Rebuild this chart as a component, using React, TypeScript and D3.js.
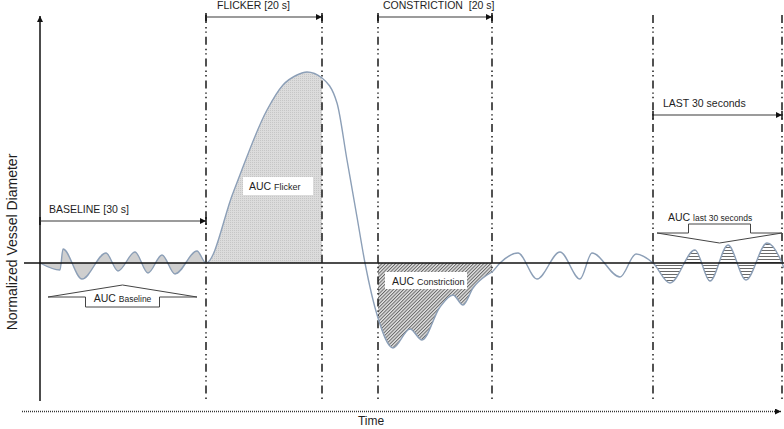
import React from 'react';
import * as d3 from 'd3';

// Schematic recording: time in arbitrary units, diameter relative to baseline (0)
const timePoints = [
  0, 20, 23, 42, 66, 78, 95, 108, 122, 135, 157, 166,
  193, 227, 243, 257, 267, 282, 297, 307, 317, 325,
  338, 353, 370, 382, 400, 413, 423, 433, 447, 452,
  460, 478, 497, 520, 540, 552, 580, 596, 613,
  630, 655, 670, 688, 706, 727, 742, 744,
];
const diameterValues = [
  0, -0.7, 1.4, -1.6, 1.0, -0.8, 1.1, -1.0, 0.8, -1.1, 1.2, 0,
  7.0, 15.3, 17.8, 18.8, 19.1, 18.5, 16.0, 10.3, 4.6, 0,
  -5.5, -8.5, -6.6, -7.7, -4.4, -3.2, -4.2, -2.5, -1.2, -0.9,
  0, 1.0, -1.6, 1.1, -1.6, 1.0, -1.4, 0.9, 0,
  -2.0, 1.3, -1.8, 1.8, -1.7, 2.0, 0, -0.5,
];

// protocol phases
const phaseLabels = ['BASELINE [30 s]', 'FLICKER [20 s]', 'CONSTRICTION  [20 s]', 'LAST 30 seconds'];
const phaseStart = [0, 166, 338, 613];
const phaseEnd = [166, 282, 452, 742];
const aucSubscripts = ['Baseline', 'Flicker', 'Constriction', 'last 30 seconds'];

// dash-dot markers
const boundaryTimes = [166, 282, 338, 452, 613, 742];

const yAxisLabel = 'Normalized Vessel Diameter';
const xAxisLabel = 'Time';

const W = 784;
const H = 429;
const FONT = '"Liberation Sans", Arial, sans-serif';
const INK = '#1e1e1e';

// per-phase layout (arrow row, label offset)
const arrowRowY = [221, 17, 17, 115];
const labelDx = [9, 11, 5, 10];
const fills = ['#cfcfcf', 'url(#flickerFill)', 'url(#constrFill)', 'url(#lastFill)'];

const App: React.FC = () => {
  const x = d3.scaleLinear().domain([0, 744]).range([40, 784]);
  const y = d3.scaleLinear().domain([-15, 25]).range([413, 13]);

  const pts = timePoints.map((t, i) => [t, diameterValues[i]] as [number, number]);

  const line = d3.line<[number, number]>()
    .x(d => x(d[0]))
    .y(d => y(d[1]))
    .curve(d3.curveMonotoneX);

  const area = d3.area<[number, number]>()
    .x(d => x(d[0]))
    .y0(y(0))
    .y1(d => y(d[1]))
    .curve(d3.curveMonotoneX);

  const y0 = y(0);
  const axisTop = 16;
  const axisBottom = 401;

  // block arrows, anchored to phase extents
  const bL = x(phaseStart[0]) + 8;
  const bR = x(phaseEnd[0]) - 9;
  const bC = (bL + bR) / 2;
  const baselineArrow = [
    [bC - 37, 307], [bC - 37, 297], [bL, 297], [bC, 285],
    [bR, 297], [bC + 37, 297], [bC + 37, 307],
  ];
  const lL = x(phaseStart[3]) + 4;
  const lR = x(phaseEnd[3]);
  const lC = (lL + lR) / 2;
  const lastArrow = [
    [lC - 31, 224], [lC + 31, 224], [lC + 31, 233], [lR, 233],
    [lC, 243], [lL, 233], [lC - 31, 233],
  ];
  const poly = (p: number[][]) => p.map(q => q.join(',')).join(' ');

  return (
    <svg width={W} height={H} style={{ position: 'absolute', left: 0, top: 0, background: '#fff' }}
      fontFamily={FONT}>
      <defs>
        <marker id="head" viewBox="0 0 6 6" refX="6" refY="3" markerWidth="6" markerHeight="6"
          markerUnits="userSpaceOnUse" orient="auto">
          <path d="M0,0 L6,3 L0,6 z" fill="#111" />
        </marker>
        <pattern id="flickerFill" width="2" height="2" patternUnits="userSpaceOnUse">
          <rect width="2" height="2" fill="#dcdcdc" />
          <rect width="1" height="1" fill="#c6c6c6" />
        </pattern>
        <pattern id="constrFill" width="2.4" height="2.4" patternUnits="userSpaceOnUse"
          patternTransform="rotate(45)">
          <rect width="2.4" height="2.4" fill="#e4e4e4" />
          <line x1="0.5" y1="0" x2="0.5" y2="2.4" stroke="#666" strokeWidth="1" />
        </pattern>
        <pattern id="lastFill" width="3" height="3" patternUnits="userSpaceOnUse">
          <rect width="3" height="3" fill="#fff" />
          <line x1="0" y1="1.5" x2="3" y2="1.5" stroke="#6a6a6a" strokeWidth="1" />
        </pattern>
        {phaseStart.map((s, i) => (
          <clipPath id={`phase${i}`} key={i}>
            <rect x={x(s)} y={0} width={x(phaseEnd[i]) - x(s)} height={H} />
          </clipPath>
        ))}
      </defs>

      {/* AUC areas */}
      {phaseStart.map((_, i) => (
        <path key={i} d={area(pts) || ''} fill={fills[i]} clipPath={`url(#phase${i})`} />
      ))}

      {/* phase boundaries */}
      {boundaryTimes.map(t => (
        <line key={t} x1={x(t)} x2={x(t)} y1={15} y2={axisBottom}
          stroke="#1a1a1a" strokeWidth={1.5} strokeDasharray="8,4,1.4,3,1.4,4" />
      ))}

      {/* vessel diameter trace */}
      <path d={line(pts) || ''} fill="none" stroke="#8c9fb7" strokeWidth={1.4} />

      {/* baseline level */}
      <line x1={24} x2={W} y1={y0} y2={y0} stroke="#111" strokeWidth={1.5} />

      {/* y axis */}
      <line x1={x(0)} x2={x(0)} y1={axisBottom} y2={axisTop} stroke="#111" strokeWidth={1.5}
        markerEnd="url(#head)" />
      <text transform={`translate(17,${242}) rotate(-90)`} textAnchor="middle" fontSize={14}
        fill={INK}>{yAxisLabel}</text>

      {/* time axis */}
      <line x1={22} x2={781} y1={411.5} y2={411.5} stroke="#333" strokeWidth={1.5}
        strokeDasharray="1,1" markerEnd="url(#head)" />
      <text x={371} y={425} textAnchor="middle" fontSize={12} fill={INK}>{xAxisLabel}</text>

      {/* phase arrows and labels */}
      {phaseLabels.map((lab, i) => {
        const x1 = x(phaseStart[i]);
        const x2 = x(phaseEnd[i]);
        const ay = arrowRowY[i];
        return (
          <g key={lab}>
            <line x1={x1} x2={x2} y1={ay} y2={ay} stroke="#7a7a7a" strokeWidth={1.5}
              markerEnd="url(#head)" />
            <line x1={x1} x2={x1} y1={ay - 4} y2={ay + 4} stroke="#111" strokeWidth={1.5} />
            <line x1={x2} x2={x2} y1={ay - 4} y2={ay + 4} stroke="#111" strokeWidth={1.5} />
            <text x={x1 + labelDx[i]} y={ay - 8} fontSize={10.5} fill={INK}
              style={{ whiteSpace: 'pre' }}>{lab}</text>
          </g>
        );
      })}

      {/* AUC labels */}
      <polygon points={poly(baselineArrow)} fill="#fff" stroke="#444" strokeWidth={1} />
      <text x={bC} y={302} textAnchor="middle" fill={INK}>
        <tspan fontSize={10.5}>AUC </tspan><tspan fontSize={8.5}>{aucSubscripts[0]}</tspan>
      </text>

      <rect x={243} y={177} width={70} height={18} fill="#fff" />
      <text x={249} y={190} fill={INK}>
        <tspan fontSize={10.5}>AUC </tspan><tspan fontSize={9}>{aucSubscripts[1]}</tspan>
      </text>

      <rect x={385} y={272} width={82} height={17} fill="#fff" />
      <text x={392} y={285} fill={INK}>
        <tspan fontSize={10.5}>AUC </tspan><tspan fontSize={9}>{aucSubscripts[2]}</tspan>
      </text>

      <polygon points={poly(lastArrow)} fill="#fff" stroke="#444" strokeWidth={1} />
      <text x={668} y={221} fill={INK}>
        <tspan fontSize={10.5}>AUC </tspan><tspan fontSize={8.5}>{aucSubscripts[3]}</tspan>
      </text>
    </svg>
  );
};

export default App;
